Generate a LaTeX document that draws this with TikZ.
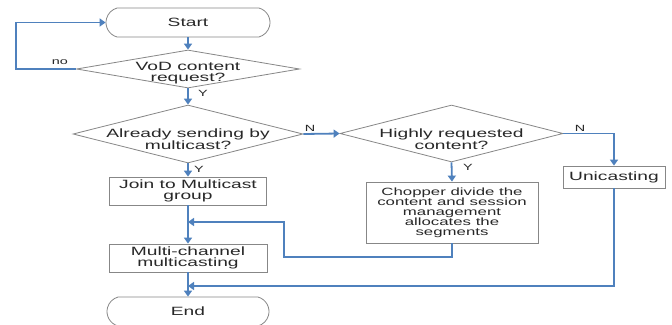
\documentclass[tikz,border=0pt]{standalone}
\usepackage{fontspec}
\setmainfont{Liberation Sans}[FakeStretch=1.6]
\usetikzlibrary{shapes.geometric,shapes.misc,arrows.meta}
\definecolor{flowblue}{RGB}{79,129,189}
\definecolor{edgegray}{RGB}{135,135,135}
\definecolor{txtgray}{RGB}{40,40,40}
\begin{document}
\begin{tikzpicture}[x=1pt,y=-1pt,
  flow/.style={draw=flowblue, line width=1.8pt, -{Triangle[width=8pt,length=6pt]}},
  txt/.style={text=txtgray, font=\fontsize{12}{11.5}\selectfont, align=center, inner sep=0pt},
  smalltxt/.style={text=txtgray, font=\fontsize{10.5}{10}\selectfont, align=center, inner sep=0pt},
  lab/.style={text=txtgray, font=\fontsize{9}{9}\selectfont, inner sep=0pt},
  term/.style={rounded rectangle, rounded rectangle arc length=150, draw=edgegray, line width=0.8pt, inner sep=0pt, txt},
  dia/.style={diamond, draw=edgegray, line width=0.8pt, inner sep=0pt},
  procbox/.style={rectangle, draw=edgegray, line width=0.8pt, inner sep=0pt}
]
\useasboundingbox (0,0) rectangle (672,324);
\clip (0,0) rectangle (672,324);
\fill[white] (0,0) rectangle (672,324);

% nodes
\node[term, minimum width=164pt, minimum height=29pt] (start) at (188,22.5) {Start};
\node[dia, minimum width=223pt, minimum height=38pt,
      label={[txt,yshift=-4pt]center:{VoD content\\request?}}] (vod) at (188,69) {};
\node[dia, minimum width=230pt, minimum height=58pt,
      label={[txt,yshift=-5pt]center:{Already sending by\\multicast?}}] (already) at (188,134) {};
\node[dia, minimum width=223pt, minimum height=57pt,
      label={[txt,yshift=-5.5pt]center:{Highly requested\\content?}}] (highly) at (451.5,133.5) {};
\node[procbox, txt, minimum width=157pt, minimum height=28pt] (join) at (188,191) {Join to Multicast\\group};
\node[procbox, txt, minimum width=158pt, minimum height=28pt] (multi) at (188,258) {Multi-channel\\multicasting};
\node[procbox, smalltxt, minimum width=172pt, minimum height=61pt] (chop) at (452,212.5)
  {Chopper divide the\\content and session\\management\\allocates the\\segments};
\node[procbox, txt, minimum width=102pt, minimum height=22pt] (uni) at (614,177) {Unicasting};
\node[term, minimum width=162pt, minimum height=29pt] (end) at (188,311.5) {End};

% helper coordinates
\coordinate (loop) at (16,69);
\coordinate (m1) at (188,222);
\coordinate (m2) at (188,286);
\coordinate (c1) at (284,257);

% labels
\node[lab] (lno) at (60,62) {no};
\node[lab] (ly1) at (203,93) {Y};
\node[lab] (ln1) at (310,128) {N};
\node[lab] (ly2) at (199,169) {Y};
\node[lab] (ly3) at (468,167) {Y};
\node[lab] (ln2) at (580,128) {N};

% connectors
\draw[flow] (start.south) -- (vod.north);
\draw[flow] (vod.west) -- (loop) |- (start.west);
\draw[flow] (vod.south) -- (already.north);
\draw[flow] (already.east) -- (highly.west);
\draw[flow] (already.south) -- (join.north);
\draw[flow] (highly.south) -- (chop.north);
\draw[flow] (highly.east) -| (uni.north);
\draw[flow] (join.south) -- (multi.north);
\draw[flow] (multi.south) -- (end.north);
\draw[flow] (chop.south) |- (c1) |- (m1);
\draw[flow] (uni.south) |- (m2);
\end{tikzpicture}
\end{document}
